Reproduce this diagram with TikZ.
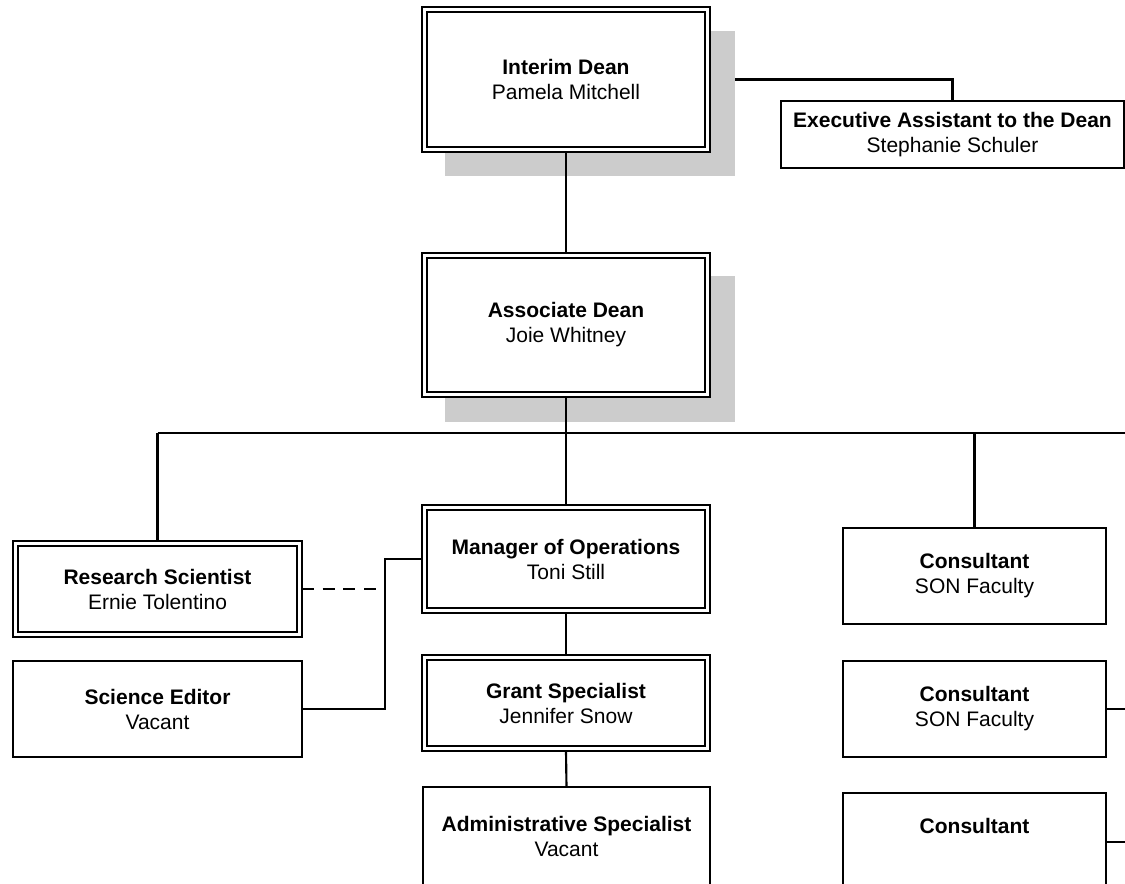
\documentclass[tikz,border=0pt]{standalone}
\usepackage{fontspec}
\setmainfont{Liberation Sans}
\definecolor{shadowgray}{RGB}{204,204,204}
\newcommand\pxu{0.75pt}
\tikzset{
  box/.style={draw, line width=1.6pt, fill=white, inner sep=0pt, outer sep=0pt, align=center,
    font=\fontsize{15.75pt}{18.75pt}\selectfont},
  conn/.style={line width=1.6pt},
  innerline/.style={line width=0.9pt},
}
\begin{document}
\begin{tikzpicture}[x=0.75pt, y=-0.75pt]
\clip (0,0) rectangle (1125,883);
\fill[white] (0,0) rectangle (1125,883);

% coordinates for free connector ends
\coordinate (busL) at (157.5,433);
\coordinate (busR) at (1135,433);
\coordinate (dashEnd) at (385,589);
\coordinate (elbowB) at (385,709);
\coordinate (elbowT) at (385,559);
\coordinate (stubA) at (1135,709);
\coordinate (stubB) at (1135,842);

% boxes placed first so the connector can reference them; redrawn on top below
\node[box, minimum width=288*\pxu, minimum height=145*\pxu] (dean) at (566,79.5) {\textbf{Interim Dean}\\Pamela Mitchell};
\node[box, minimum width=343*\pxu, minimum height=67*\pxu] (exec) at (952.5,134.5) {\textbf{Executive Assistant to the Dean}\\Stephanie Schuler};

% connector dean -> executive assistant (behind shadow)
\draw[conn] (dean.east) -| (exec.north);

% shadows
\fill[shadowgray] (445,31) rectangle (735,176);
\fill[shadowgray] (445,276) rectangle (735,422);

% redraw top nodes
\node[box, minimum width=288*\pxu, minimum height=145*\pxu] (dean) at (566,79.5) {\textbf{Interim Dean}\\Pamela Mitchell};
\node[box, minimum width=343*\pxu, minimum height=67*\pxu] (exec) at (952.5,134.5) {\textbf{Executive Assistant to the Dean}\\Stephanie Schuler};

\node[box, minimum width=288*\pxu, minimum height=144*\pxu] (assoc) at (566,325) {\textbf{Associate Dean}\\Joie Whitney};

\node[box, minimum width=289*\pxu, minimum height=96*\pxu] (rs) at (157.5,589) {\textbf{Research Scientist}\\Ernie Tolentino};
\node[box, minimum width=289*\pxu, minimum height=96*\pxu] (se) at (157.5,709) {\textbf{Science Editor}\\Vacant};
\node[box, minimum width=288*\pxu, minimum height=108*\pxu] (mo) at (566,559) {\textbf{Manager of Operations}\\Toni Still};
\node[box, minimum width=288*\pxu, minimum height=96*\pxu] (gs) at (566,703) {\textbf{Grant Specialist}\\Jennifer Snow};
\node[box, minimum width=287*\pxu, minimum height=98*\pxu] (adm) at (566.5,836) {\textbf{Administrative Specialist}\\Vacant};

\node[box, minimum width=263*\pxu, minimum height=96*\pxu] (c1) at (974.5,576) {\textbf{Consultant}\\SON Faculty};
\node[box, minimum width=263*\pxu, minimum height=96*\pxu] (c2) at (974.5,709) {\textbf{Consultant}\\SON Faculty};
\node[box, minimum width=263*\pxu, minimum height=98*\pxu] (c3) at (974.5,842) {\textbf{Consultant}\\\strut};

% inner lines of double-bordered boxes
\foreach \n in {dean,assoc,rs,mo,gs}{
  \draw[innerline] ([shift={(5,5)}]\n.north west) rectangle ([shift={(-5,-5)}]\n.south east);
}

% connectors
\draw[conn] (dean.south) -- (assoc.north);
\draw[conn] (assoc.south) -- (mo.north);
\draw[conn] (busL) -- (busR);
\draw[conn] (busL) -- (rs.north);
\draw[conn] (c1.north |- busL) -- (c1.north);
\draw[conn, dash pattern=on 9pt off 6.5pt] (rs.east) -- (dashEnd);
\draw[conn] (se.east) -- (elbowB) -- (elbowT) -- (mo.west);
\draw[conn] (mo.south) -- (gs.north);
\draw[conn] (gs.south) -- (adm.north);
\draw[conn] (c2.east) -- (stubA);
\draw[conn] (c3.east) -- (stubB);
\end{tikzpicture}
\end{document}
